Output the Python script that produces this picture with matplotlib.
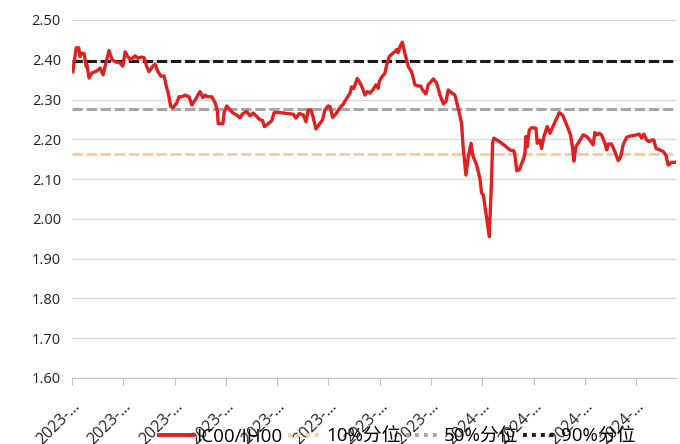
import matplotlib
matplotlib.use("Agg")
import matplotlib.pyplot as plt
from matplotlib.lines import Line2D

plt.rcParams['font.family'] = ['Open Sans', 'Noto Sans CJK SC', 'DejaVu Sans']

# trading-day index and IC00/IH00 ratio
day = [0.3, 1.6, 2.6, 3.1, 3.8, 4.7, 5.5, 5.8, 6.6, 7.8, 9.7, 10.9, 12.1, 13.3, 14.4,
       15.6, 16.8, 18.7, 19.8, 20.7, 21.7, 23.0, 24.6, 25.7, 27.2, 28.1, 29.1, 30.0,
       31.5, 32.4, 33.5, 34.6, 35.9, 36.9, 37.4, 38.5, 39.4, 40.8, 41.7, 42.8, 44.1,
       45.6, 46.7, 48.0, 49.9, 51.0, 51.9, 52.7, 54.5, 55.8, 56.6, 57.0, 58.8, 59.3,
       60.3, 61.6, 62.8, 64.2, 65.5, 66.5, 68.1, 69.4, 70.6, 72.0, 73.3, 74.3, 75.0,
       76.5, 77.9, 78.8, 81.1, 83.7, 86.3, 87.3, 88.6, 90.2, 91.2, 92.1, 93.1, 93.8,
       95.1, 96.7, 97.7, 98.6, 99.9, 100.6, 101.6, 102.9, 104.5, 105.8, 107.1, 108.4,
       109.0, 109.9, 111.2, 112.3, 113.3, 114.2, 115.1, 116.2, 117.5, 118.5, 119.4,
       119.8, 120.7, 122.0, 122.7, 123.7, 125.0, 125.9, 126.6, 127.2, 127.9, 128.8,
       129.8, 131.1, 132.4, 133.7, 135.0, 135.9, 136.7, 138.0, 138.9, 140.9, 142.2,
       143.5, 144.8, 145.8, 146.7, 148.0, 149.3, 150.6, 151.9, 152.5, 153.6, 154.5,
       155.6, 156.2, 157.8, 159.1, 159.7, 160.4, 162.7, 163.6, 164.0, 164.5, 166.9,
       168.8, 170.8, 172.3, 172.7, 173.4, 174.4, 176.0, 176.6, 177.0, 177.5, 178.3,
       179.2, 180.9, 181.4, 182.5, 183.1, 184.0, 185.3, 186.4, 187.6, 189.0, 190.0,
       191.3, 192.9, 194.4, 195.2, 195.7, 196.5, 198.1, 199.3, 200.7, 201.9, 203.2,
       203.9, 204.8, 205.6, 206.5, 207.8, 208.5, 209.1, 210.4, 211.7, 213.0, 213.9,
       214.9, 216.3, 217.5, 219.5, 221.2, 222.1, 223.0, 224.1, 225.1, 226.0, 226.9,
       227.7, 229.3, 230.6, 231.6, 232.5, 233.8, 235.5]
ratio = [2.370, 2.430, 2.430, 2.408, 2.417, 2.415, 2.383, 2.387, 2.354, 2.367, 2.372,
         2.379, 2.362, 2.395, 2.423, 2.400, 2.395, 2.392, 2.384, 2.420, 2.408, 2.400,
         2.410, 2.404, 2.407, 2.405, 2.383, 2.370, 2.384, 2.389, 2.370, 2.359, 2.359,
         2.329, 2.319, 2.282, 2.280, 2.291, 2.307, 2.307, 2.311, 2.307, 2.286, 2.299,
         2.320, 2.305, 2.311, 2.307, 2.307, 2.291, 2.274, 2.239, 2.239, 2.267, 2.284,
         2.274, 2.266, 2.261, 2.254, 2.264, 2.270, 2.259, 2.266, 2.257, 2.249, 2.247,
         2.232, 2.239, 2.247, 2.267, 2.267, 2.265, 2.263, 2.253, 2.265, 2.261, 2.244,
         2.274, 2.274, 2.261, 2.226, 2.240, 2.249, 2.274, 2.284, 2.282, 2.255, 2.264,
         2.280, 2.289, 2.303, 2.316, 2.332, 2.328, 2.353, 2.342, 2.328, 2.311, 2.320,
         2.316, 2.326, 2.337, 2.328, 2.345, 2.356, 2.366, 2.387, 2.408, 2.416, 2.420,
         2.426, 2.418, 2.433, 2.444, 2.416, 2.383, 2.370, 2.337, 2.334, 2.334, 2.324,
         2.314, 2.337, 2.352, 2.341, 2.311, 2.289, 2.295, 2.324, 2.317, 2.311, 2.278,
         2.240, 2.181, 2.110, 2.156, 2.190, 2.160, 2.135, 2.100, 2.065, 2.060, 1.955,
         2.098, 2.190, 2.203, 2.193, 2.184, 2.173, 2.171, 2.160, 2.121, 2.123, 2.150,
         2.163, 2.207, 2.181, 2.223, 2.229, 2.228, 2.190, 2.198, 2.177, 2.207, 2.232,
         2.215, 2.233, 2.253, 2.267, 2.261, 2.236, 2.211, 2.177, 2.145, 2.181, 2.198,
         2.211, 2.207, 2.198, 2.186, 2.217, 2.211, 2.215, 2.211, 2.190, 2.173, 2.188,
         2.188, 2.169, 2.146, 2.155, 2.186, 2.205, 2.208, 2.210, 2.213, 2.203, 2.213,
         2.198, 2.194, 2.198, 2.198, 2.177, 2.173, 2.169, 2.160, 2.135, 2.142, 2.142]

# quantile levels
q10 = 2.163
q50 = 2.276
q90 = 2.396

tick_days = [0, 20, 40, 60, 80, 100, 120, 140, 160, 180, 200, 220]
tick_labels = ["2023-…"] * 8 + ["2024-…"] * 4
series_name = "IC00/IH00"
quant_names = ["10%分位", "50%分位", "90%分位"]

red = "#E02020"
orange = "#F9CDA0"
gray = "#A6A6A6"
black = "#1A1A1A"

fig = plt.figure(figsize=(6.8, 4.44), dpi=100)
ax = fig.add_axes([0.106, 0.149, 0.888, 0.806])

dash = (0, (3.4, 1.2) * 16 + (0.6, 1.2))
x0, x1 = 0, 235.5
ax.plot([x0, x1], [q10, q10], color=orange, lw=2.2, linestyle=dash)
ax.plot([x0, x1], [q50, q50], color=gray, lw=2.2, linestyle=dash)
ax.plot([x0, x1], [q90, q90], color=black, lw=2.2, linestyle=dash)
ax.plot(day, ratio, color=red, lw=2.4, solid_joinstyle='round', zorder=5)

ax.set_xlim(x0, x1)
ax.set_ylim(1.60, 2.50)
ax.set_yticks([1.6 + 0.1 * i for i in range(10)])
ax.yaxis.set_major_formatter(matplotlib.ticker.FormatStrFormatter('%.2f'))
ax.grid(axis='y', color='#D9D9D9', lw=0.9)
ax.set_axisbelow(True)
for s in ['top', 'right', 'left']:
    ax.spines[s].set_visible(False)
ax.spines['bottom'].set_color('#BFBFBF')
ax.tick_params(axis='y', length=0, pad=8, labelsize=10.5, colors='#222222')
ax.set_xticks(tick_days)
ax.set_xticklabels(tick_labels, rotation=45, ha='right', rotation_mode='anchor',
                   fontsize=11.5, color='#222222')
ax.tick_params(axis='x', length=5, color='#BFBFBF', pad=10)

handles = [Line2D([], [], color=red, lw=2.8),
           Line2D([], [], color=orange, lw=2.8, linestyle=(0, (1, 1.3))),
           Line2D([], [], color=gray, lw=2.8, linestyle=(0, (1, 1.3))),
           Line2D([], [], color=black, lw=2.8, linestyle=(0, (1, 1.3)))]
fig.legend(handles, [series_name] + quant_names, loc='center',
           bbox_to_anchor=(0.584, 0.016), ncol=4, frameon=False,
           prop={'family': ['Open Sans', 'Noto Sans CJK SC'], 'size': 13.5},
           handlelength=1.8, columnspacing=0.3, handletextpad=0.2)

fig.savefig("out.png", dpi=100)
